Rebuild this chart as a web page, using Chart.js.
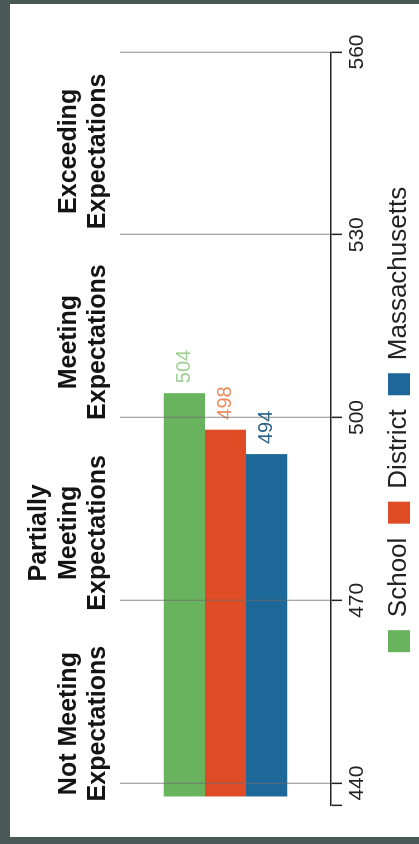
<!DOCTYPE html>
<html>
<head>
<meta charset="utf-8">
<script src="https://cdn.jsdelivr.net/npm/chart.js@4.4.1/dist/chart.umd.min.js"></script>
<style>
  html, body { margin: 0; padding: 0; }
  body { width: 419px; height: 844px; background: #4a5857; position: relative; overflow: hidden; }
  #paper { position: absolute; left: 10px; top: 4px; width: 409px; height: 833px; background: #ffffff; }
  #wrap { position: absolute; left: 10px; top: 837px; width: 833px; height: 409px;
          transform: rotate(-90deg); transform-origin: 0 0; }
  canvas { display: block; }
</style>
</head>
<body>
<div id="paper"></div>
<div id="wrap"><canvas id="c" width="833" height="409" style="width:833px;height:409px"></canvas></div>
<script>
// ---- data ----
const categories = ['Average Scaled Score'];
const seriesNames = ['School', 'District', 'Massachusetts'];
const schoolValues = [504];
const districtValues = [498];
const massachusettsValues = [494];
const tickValues = [440, 470, 500, 530, 560];
const bandLabels = [
  ['Not Meeting', 'Expectations'],
  ['Partially', 'Meeting', 'Expectations'],
  ['Meeting', 'Expectations'],
  ['Exceeding', 'Expectations']
];

// ---- styles ----
const barColors = ['#6ab35e', '#df4b24', '#1d6898'];
const valueLabelColors = ['#9fcf93', '#ee8a5c', '#2c6289'];
const AXIS_MIN = 436.4;
const BAR_BASE = 437.8;
const LEGEND_SHIFT = 9;
const FONT = '"Liberation Sans", Arial, Helvetica, sans-serif';

const valueLabelPlugin = {
  id: 'valueLabels',
  afterDatasetsDraw(chart) {
    const ctx = chart.ctx;
    ctx.save();
    ctx.font = '20px ' + FONT;
    ctx.textAlign = 'left';
    ctx.textBaseline = 'middle';
    chart.data.datasets.forEach((ds, i) => {
      const meta = chart.getDatasetMeta(i);
      meta.data.forEach((bar, j) => {
        ctx.fillStyle = valueLabelColors[i];
        ctx.fillText(String(ds.data[j]), bar.x + 10, bar.y);
      });
    });
    ctx.restore();
  }
};

const bandLabelPlugin = {
  id: 'bandLabels',
  afterDraw(chart) {
    const ctx = chart.ctx;
    const area = chart.chartArea;
    const x = chart.scales.x;
    const L = area.left - 14;
    const R = x.getPixelForValue(tickValues[tickValues.length - 1]) - 4;
    const cell = (R - L) / bandLabels.length;
    const lastBaseline = area.top - 15;
    const pitch = 29.5;
    ctx.save();
    ctx.font = 'bold 25px ' + FONT;
    ctx.fillStyle = '#141414';
    ctx.textAlign = 'center';
    ctx.textBaseline = 'alphabetic';
    bandLabels.forEach((lines, i) => {
      const cx = L + cell * (i + 0.5);
      lines.forEach((t, k) => {
        const y = lastBaseline - (lines.length - 1 - k) * pitch;
        ctx.fillText(t, cx, y);
      });
    });
    ctx.restore();
  }
};

const legendShiftPlugin = {
  id: 'legendShift',
  afterLayout(chart) {
    if (chart.legend) {
      chart.legend.left += LEGEND_SHIFT;
      chart.legend.right += LEGEND_SHIFT;
    }
  }
};

const datasetValues = [schoolValues, districtValues, massachusettsValues];

new Chart(document.getElementById('c'), {
  type: 'bar',
  data: {
    labels: categories,
    datasets: seriesNames.map((name, i) => ({
      label: name,
      data: datasetValues[i],
      backgroundColor: barColors[i],
      borderWidth: 0,
      base: BAR_BASE,
      categoryPercentage: 0.585,
      barPercentage: 1.0
    }))
  },
  options: {
    indexAxis: 'y',
    responsive: false,
    animation: false,
    devicePixelRatio: 1,
    layout: { padding: { left: 32, right: 48, top: 110, bottom: -3 } },
    scales: {
      x: {
        type: 'linear',
        position: 'bottom',
        min: AXIS_MIN,
        max: tickValues[tickValues.length - 1],
        afterBuildTicks(scale) {
          scale.ticks = [{ value: AXIS_MIN }].concat(tickValues.map(v => ({ value: v })));
        },
        afterFit(scale) { scale.height = 41; },
        grid: {
          z: 1,
          color: (c) => (c.tick && c.tick.value === AXIS_MIN) ? 'rgba(0,0,0,0)' : 'rgba(110,110,110,0.6)',
          lineWidth: 1.3,
          drawTicks: true,
          tickLength: 11,
          tickColor: '#222',
          tickWidth: 1.5
        },
        border: { display: true, color: '#222', width: 1.6, z: 2 },
        ticks: {
          padding: 3,
          color: '#222',
          font: { family: FONT, size: 21 },
          maxRotation: 0,
          autoSkip: false,
          callback: (v) => (v === AXIS_MIN ? '' : String(v))
        }
      },
      y: { display: false }
    },
    plugins: {
      legend: {
        display: true,
        position: 'bottom',
        labels: {
          boxWidth: 22,
          boxHeight: 22,
          padding: 14,
          color: '#222',
          font: { family: FONT, size: 26 }
        }
      },
      tooltip: { enabled: false }
    }
  },
  plugins: [valueLabelPlugin, bandLabelPlugin, legendShiftPlugin]
});
</script>
</body>
</html>
